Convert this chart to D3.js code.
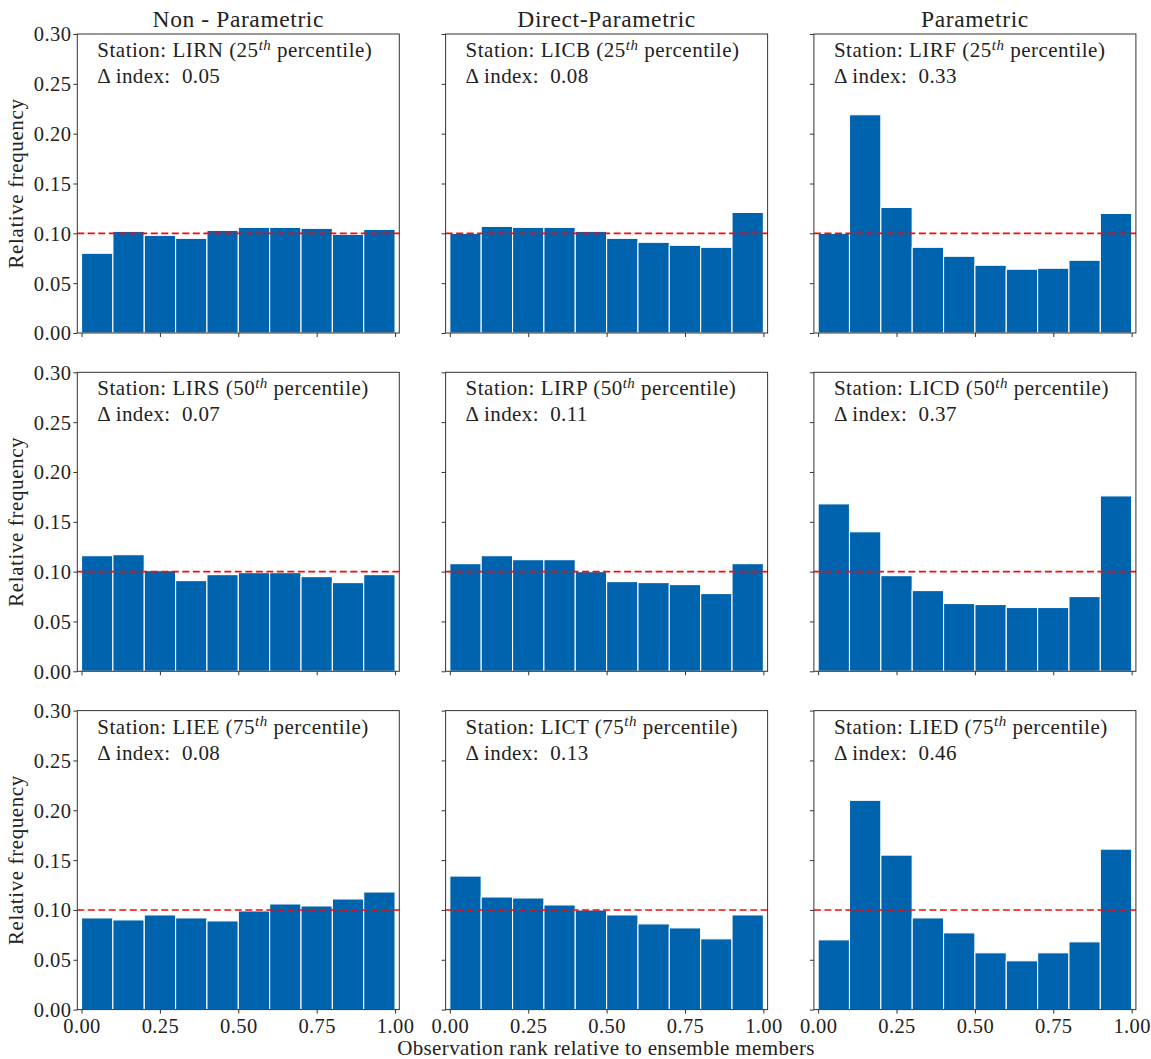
<!DOCTYPE html>
<html>
<head>
<meta charset="utf-8">
<script src="https://cdn.jsdelivr.net/npm/d3@7"></script>
<style>
  html, body { margin: 0; padding: 0; background: #fff; }
  svg text { font-family: "Liberation Serif", "DejaVu Serif", serif; fill: #222; }
</style>
</head>
<body>
<svg id="chart" width="1151" height="1059"></svg>
<script>
// Rank histograms: 10 bins of observation rank, one panel per station/method
const methods = ["Non - Parametric", "Direct-Parametric", "Parametric"];
const percentiles = ["25", "50", "75"];
const stations = [
  ["LIRN", "LICB", "LIRF"],
  ["LIRS", "LIRP", "LICD"],
  ["LIEE", "LICT", "LIED"]
];
const deltaIndex = [
  ["0.05", "0.08", "0.33"],
  ["0.07", "0.11", "0.37"],
  ["0.08", "0.13", "0.46"]
];
const binEdges = [0, 0.1, 0.2, 0.3, 0.4, 0.5, 0.6, 0.7, 0.8, 0.9, 1.0];

// relative frequency per bin
const freqLIRN = [0.080, 0.102, 0.098, 0.095, 0.103, 0.106, 0.106, 0.105, 0.099, 0.104];
const freqLICB = [0.100, 0.107, 0.106, 0.106, 0.102, 0.095, 0.091, 0.088, 0.086, 0.121];
const freqLIRF = [0.100, 0.219, 0.126, 0.086, 0.077, 0.068, 0.064, 0.065, 0.073, 0.120];
const freqLIRS = [0.116, 0.117, 0.101, 0.091, 0.097, 0.099, 0.099, 0.095, 0.089, 0.097];
const freqLIRP = [0.108, 0.116, 0.112, 0.112, 0.100, 0.090, 0.089, 0.087, 0.078, 0.108];
const freqLICD = [0.168, 0.140, 0.096, 0.081, 0.068, 0.067, 0.064, 0.064, 0.075, 0.176];
const freqLIEE = [0.092, 0.090, 0.095, 0.092, 0.089, 0.099, 0.106, 0.104, 0.111, 0.118];
const freqLICT = [0.134, 0.113, 0.112, 0.105, 0.100, 0.095, 0.086, 0.082, 0.071, 0.095];
const freqLIED = [0.070, 0.210, 0.155, 0.092, 0.077, 0.057, 0.049, 0.057, 0.068, 0.161];

const panelFreqs = [
  [freqLIRN, freqLICB, freqLIRF],
  [freqLIRS, freqLIRP, freqLICD],
  [freqLIEE, freqLICT, freqLIED]
];

const xTicks = [0, 0.25, 0.5, 0.75, 1.0];
const yTicks = [0, 0.05, 0.10, 0.15, 0.20, 0.25, 0.30];
const uniformLevel = 0.1;

const svg = d3.select("#chart");
const colLeft = [77.3, 445.6, 813.9];
const rowTop = [34, 372.3, 710.6];
const pw = 322, ph = 299;
const barColor = "#0063ad";

const x = d3.scaleLinear().domain([-0.0135, 1.0135]).range([0, pw]);
const y = d3.scaleLinear().domain([0, 0.30]).range([ph, 0]);

for (let r = 0; r < 3; r++) {
  for (let c = 0; c < 3; c++) {
    const g = svg.append("g").attr("transform", `translate(${colLeft[c]},${rowTop[r]})`);
    const vals = panelFreqs[r][c];

    // bars
    g.selectAll("rect.bar").data(vals).join("rect")
      .attr("class", "bar")
      .attr("x", (d, i) => x(binEdges[i]))
      .attr("width", (d, i) => x(binEdges[i + 1]) - x(binEdges[i]))
      .attr("y", d => y(d))
      .attr("height", d => y(0) - y(d))
      .attr("fill", barColor)
      .attr("stroke", "#ffffff")
      .attr("stroke-width", 1.1);

    // uniform reference line
    g.append("line")
      .attr("x1", 0).attr("x2", pw)
      .attr("y1", y(uniformLevel)).attr("y2", y(uniformLevel))
      .attr("stroke", "#f50a0a")
      .attr("stroke-width", 1.6)
      .attr("stroke-dasharray", "7,3.5");

    // axes
    const xAxis = d3.axisBottom(x).tickValues(xTicks).tickSize(4).tickSizeOuter(0)
      .tickFormat(r === 2 ? d3.format(".2f") : () => "");
    const gx = g.append("g").attr("transform", `translate(0,${ph})`).call(xAxis);
    const yAxis = d3.axisLeft(y).tickValues(yTicks).tickSize(4).tickSizeOuter(0)
      .tickFormat(c === 0 ? d3.format(".2f") : () => "");
    const gy = g.append("g").call(yAxis);
    [gx, gy].forEach(a => {
      a.select(".domain").remove();
      a.selectAll(".tick line").attr("stroke", "#333").attr("stroke-width", 1);
      a.selectAll(".tick text")
        .attr("font-family", "Liberation Serif, DejaVu Serif, serif")
        .attr("font-size", 20.5).attr("fill", "#222")
        .attr("letter-spacing", 0.4);
    });
    gx.selectAll(".tick text").attr("dy", "0.95em").attr("y", 4);
    gy.selectAll(".tick text").attr("x", -6).attr("dy", "0.34em");

    // frame
    g.append("rect")
      .attr("x", 0).attr("y", 0).attr("width", pw).attr("height", ph)
      .attr("fill", "none").attr("stroke", "#333").attr("stroke-width", 1);

    // annotations
    const t1 = g.append("text").attr("x", 20).attr("y", 23)
      .attr("font-size", 21).attr("letter-spacing", 0.5);
    t1.append("tspan").text(`Station: ${stations[r][c]} (${percentiles[r]}`);
    t1.append("tspan").text("th").attr("font-style", "italic").attr("font-size", 15).attr("dy", -7.5);
    t1.append("tspan").text(" percentile)").attr("dy", 7.5);
    g.append("text").attr("x", 20).attr("y", 49)
      .attr("font-size", 21).attr("letter-spacing", 0.4)
      .attr("xml:space", "preserve")
      .text(`Δ index:  ${deltaIndex[r][c]}`);

    if (r === 0) {
      g.append("text").attr("x", pw / 2).attr("y", -7)
        .attr("text-anchor", "middle").attr("font-size", 23.5)
        .attr("letter-spacing", 0.6)
        .text(methods[c]);
    }
    if (c === 0) {
      g.append("text")
        .attr("transform", `translate(-54,${ph / 2}) rotate(-90)`)
        .attr("text-anchor", "middle").attr("font-size", 21)
        .attr("letter-spacing", 0.6)
        .text("Relative frequency");
    }
  }
}

svg.append("text")
  .attr("x", 606).attr("y", 1055)
  .attr("text-anchor", "middle").attr("font-size", 21)
  .attr("letter-spacing", 0.35)
  .text("Observation rank relative to ensemble members");
</script>
</body>
</html>
